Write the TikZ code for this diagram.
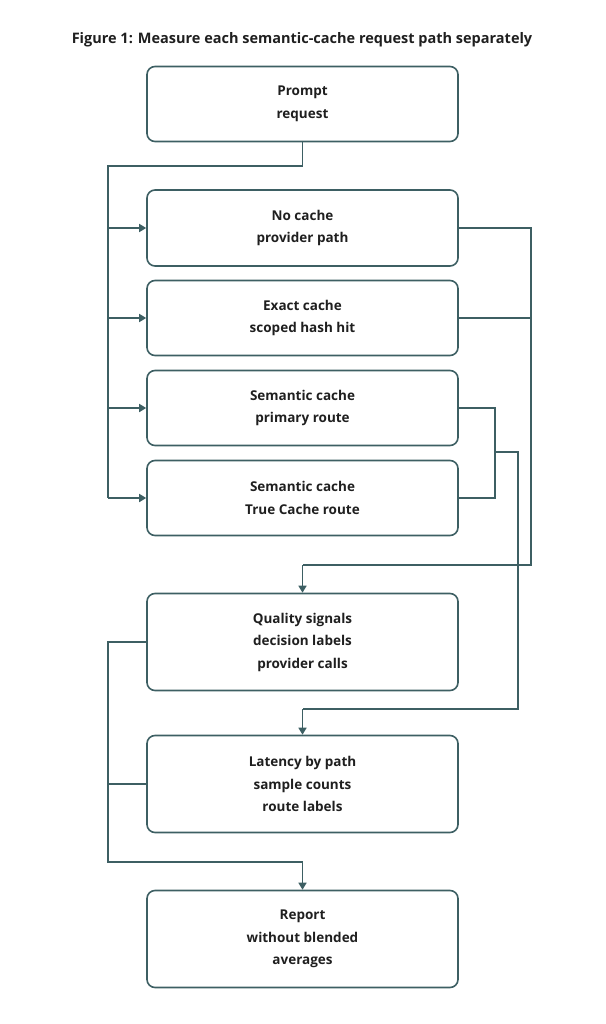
\documentclass[tikz,border=0pt]{standalone}
\usepackage{fontspec}
\setmainfont{Open Sans}
\usetikzlibrary{arrows.meta}
\definecolor{ln}{HTML}{3D5F63}
\definecolor{tx}{HTML}{1F1F1F}
\begin{document}
\begin{tikzpicture}[x=1pt,y=-1pt,
 box/.style={draw=ln,line width=1.6pt,rounded corners=8pt,minimum width=311pt,align=center,font=\bfseries\fontsize{13.5}{22.5}\selectfont,text=tx,inner sep=0pt},
 con/.style={draw=ln,line width=1.6pt},
 arr/.style={con,-{Triangle[length=7pt,width=8pt]}}]
\useasboundingbox (0,0) rectangle (605,1024);
\node[font=\bfseries\fontsize{14.5}{17}\selectfont,text=tx] (title) at (302,40) {Figure 1: Measure each semantic-cache request path separately};
\node[box,minimum height=75pt] (b1) at (302.5,104) {Prompt\\request};
\node[box,minimum height=76pt] (b2) at (302.5,228) {No cache\\provider path};
\node[box,minimum height=75pt] (b3) at (302.5,318) {Exact cache\\scoped hash hit};
\node[box,minimum height=75pt] (b4) at (302.5,408) {Semantic cache\\primary route};
\node[box,minimum height=75pt] (b5) at (302.5,498) {Semantic cache\\True Cache route};
\node[box,minimum height=97pt] (b6) at (302.5,642) {Quality signals\\decision labels\\provider calls};
\node[box,minimum height=97pt] (b7) at (302.5,784) {Latency by path\\sample counts\\route labels};
\node[box,minimum height=97pt] (b8) at (302.5,939) {Report\\without blended\\averages};
\coordinate (t1) at (108,166);
\coordinate (r1) at (531,565);
\coordinate (r2) at (495,452);
\coordinate (r3) at (518,709);
\coordinate (l2) at (108,862);
\draw[con] (b1.south) |- (t1) -- (t1 |- b5.west);
\draw[arr] (t1 |- b2.west) -- (b2.west);
\draw[arr] (t1 |- b3.west) -- (b3.west);
\draw[arr] (t1 |- b4.west) -- (b4.west);
\draw[arr] (t1 |- b5.west) -- (b5.west);
\draw[con] (b2.east) -| (r1) -- (b6.north |- r1);
\draw[con] (b3.east) -- (b3.east -| r1);
\draw[arr] (b6.north |- r1) -- (b6.north);
\draw[con] (b4.east) -| (r2) |- (b5.east);
\draw[con] (r2) -| (r3) -- (b7.north |- r3);
\draw[arr] (b7.north |- r3) -- (b7.north);
\draw[con] (b6.west) -- (b6.west -| l2) -- (l2) -- (b8.north |- l2);
\draw[con] (b7.west) -- (b7.west -| l2);
\draw[arr] (b8.north |- l2) -- (b8.north);
\end{tikzpicture}
\end{document}
